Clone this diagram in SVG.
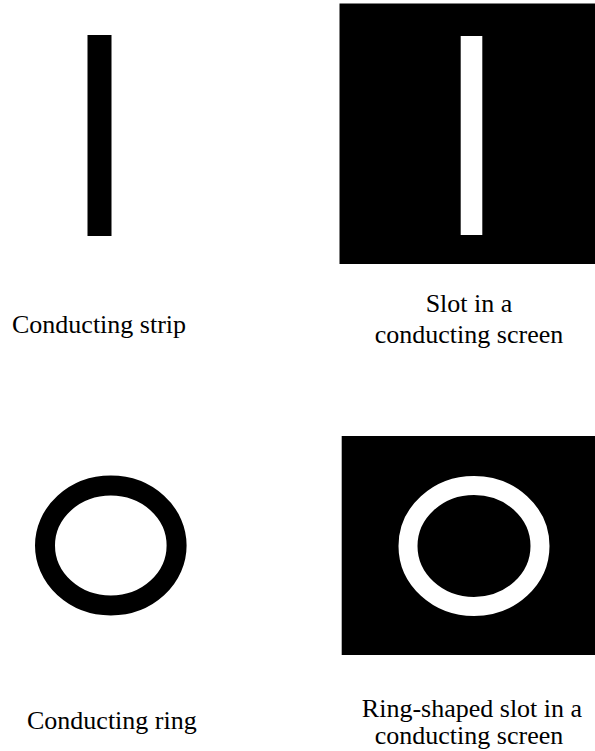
<svg xmlns="http://www.w3.org/2000/svg" width="595" height="751" viewBox="0 0 595 751">
<style>
.lbl{font-family:"Liberation Serif","Times New Roman",serif;font-size:26px;fill:#000}
.blk{fill:#000}
.wht{fill:#fff}
</style>
<rect x="0" y="0" width="595" height="751" fill="#fff"/>
<g id="strip">
<rect class="blk" x="87.5" y="35" width="24" height="201"/>
<text class="lbl" x="12" y="333">Conducting strip</text>
</g>
<g id="slot">
<rect class="blk" x="339.5" y="3.5" width="255.5" height="260.5"/>
<rect class="wht" x="460.7" y="36" width="21.6" height="199"/>
<text class="lbl" text-anchor="middle" x="469" y="312">Slot in a</text>
<text class="lbl" text-anchor="middle" x="469" y="343">conducting screen</text>
</g>
<g id="ring">
<ellipse cx="110.8" cy="545.5" rx="65.8" ry="60" fill="none" stroke="#000" stroke-width="20"/>
<text class="lbl" x="27" y="729">Conducting ring</text>
</g>
<g id="ringslot">
<rect class="blk" x="341.7" y="436" width="253.3" height="219"/>
<ellipse cx="474" cy="546" rx="66" ry="60.5" fill="none" stroke="#fff" stroke-width="19"/>
<text class="lbl" text-anchor="middle" x="472" y="717">Ring-shaped slot in a</text>
<text class="lbl" text-anchor="middle" x="469" y="744">conducting screen</text>
</g>
<g id="connectors"></g>
</svg>
